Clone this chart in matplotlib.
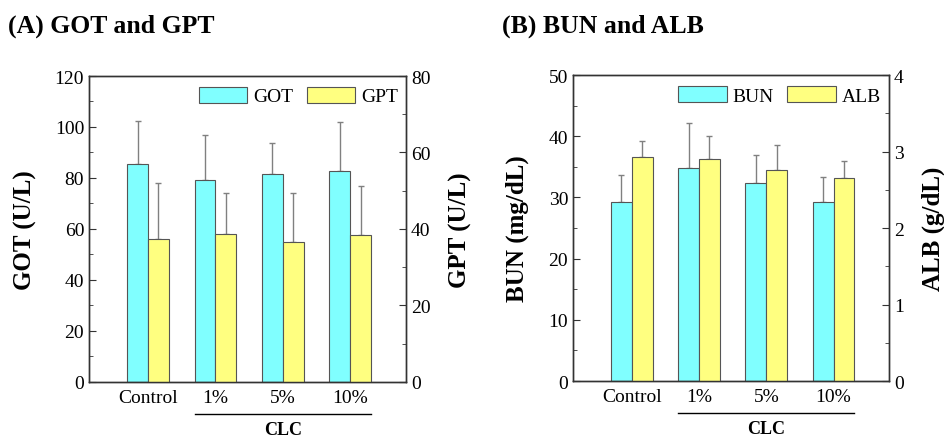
import numpy as np
import matplotlib.pyplot as plt
from matplotlib.ticker import MultipleLocator

plt.rcParams['font.family'] = ['Liberation Serif', 'DejaVu Serif']

groups = ['Control', '1%', '5%', '10%']

got = [85.4, 79.2, 81.4, 82.7]
got_err = [16.9, 17.5, 12.2, 19.4]
gpt = [37.3, 38.7, 36.6, 38.5]
gpt_err = [14.8, 10.8, 12.8, 12.7]

bun = [29.3, 34.8, 32.3, 29.3]
bun_err = [4.3, 7.3, 4.6, 4.1]
alb = [2.93, 2.90, 2.76, 2.65]
alb_err = [0.21, 0.30, 0.32, 0.23]

cyan = '#80ffff'
yellow = '#ffff80'
edge = '#555555'
errc = '#808080'


def panel(rect, v1, e1, v2, e2, lim1, lim2, step1, step2, lab1, lab2, names, pad1, pad2):
    ax = fig.add_axes(rect)
    ax2 = ax.twinx()
    x = np.arange(len(groups))
    w = 0.31
    b1 = ax.bar(x - w / 2, v1, w, color=cyan, edgecolor=edge, linewidth=0.8, zorder=2)
    ax.errorbar(x - w / 2, v1, yerr=[np.zeros(len(e1)), e1], fmt='none',
                ecolor=errc, elinewidth=1, capsize=2.5, capthick=1, zorder=1)
    b2 = ax2.bar(x + w / 2, v2, w, color=yellow, edgecolor=edge, linewidth=0.8, zorder=2)
    ax2.errorbar(x + w / 2, v2, yerr=[np.zeros(len(e2)), e2], fmt='none',
                 ecolor=errc, elinewidth=1, capsize=2.5, capthick=1, zorder=1)
    ax.set_xlim(-0.875, 3.825)
    ax.set_ylim(0, lim1)
    ax2.set_ylim(0, lim2)
    ax.yaxis.set_major_locator(MultipleLocator(step1))
    ax.yaxis.set_minor_locator(MultipleLocator(step1 / 2))
    ax2.yaxis.set_major_locator(MultipleLocator(step2))
    ax2.yaxis.set_minor_locator(MultipleLocator(step2 / 2))
    ax.set_xticks(x)
    ax.set_xticklabels(groups, fontsize=14)
    ax.tick_params(axis='x', length=0, pad=5)
    for a in (ax, ax2):
        a.tick_params(axis='y', which='both', direction='in', labelsize=14, color='#333333')
        a.tick_params(axis='y', which='major', length=5)
        a.tick_params(axis='y', which='minor', length=3)
        for s in a.spines.values():
            s.set_color('#333333')
            s.set_linewidth(1.0)
    ax.set_ylabel(lab1, fontsize=18, fontweight='bold', labelpad=pad1)
    ax2.set_ylabel(lab2, fontsize=18, fontweight='bold', labelpad=pad2)
    ax.legend([b1, b2], names, loc='upper right', bbox_to_anchor=(0.975, 0.965),
              frameon=False, ncol=2, fontsize=14, handlelength=2.5, handleheight=0.9,
              handletextpad=0.3, columnspacing=0.7, borderaxespad=0, borderpad=0)
    # CLC bracket under the treated groups
    ax.plot([1 - w, 3 + w], [-0.105 * lim1, -0.105 * lim1], color='black', lw=1,
            clip_on=False, transform=ax.transData)
    ax.text(2, -0.155 * lim1, 'CLC', ha='center', va='center', fontsize=13, fontweight='bold')
    return ax


fig = plt.figure(figsize=(9.44, 4.39), dpi=100)

panel([0.0943, 0.1276, 0.3358, 0.697], got, got_err, gpt, gpt_err, 120, 80, 20, 20,
      'GOT (U/L)', 'GPT (U/L)', ['GOT', 'GPT'], 13, 13)
panel([0.607, 0.1298, 0.3347, 0.697], bun, bun_err, alb, alb_err, 50, 4, 10, 1,
      'BUN (mg/dL)', 'ALB (g/dL)', ['BUN', 'ALB'], 14, 13)

fig.text(0.0085, 0.925, '(A) GOT and GPT', fontsize=18.5, fontweight='bold', va='baseline')
fig.text(0.532, 0.925, '(B) BUN and ALB', fontsize=18.5, fontweight='bold', va='baseline')

fig.savefig('out.png', dpi=100)
